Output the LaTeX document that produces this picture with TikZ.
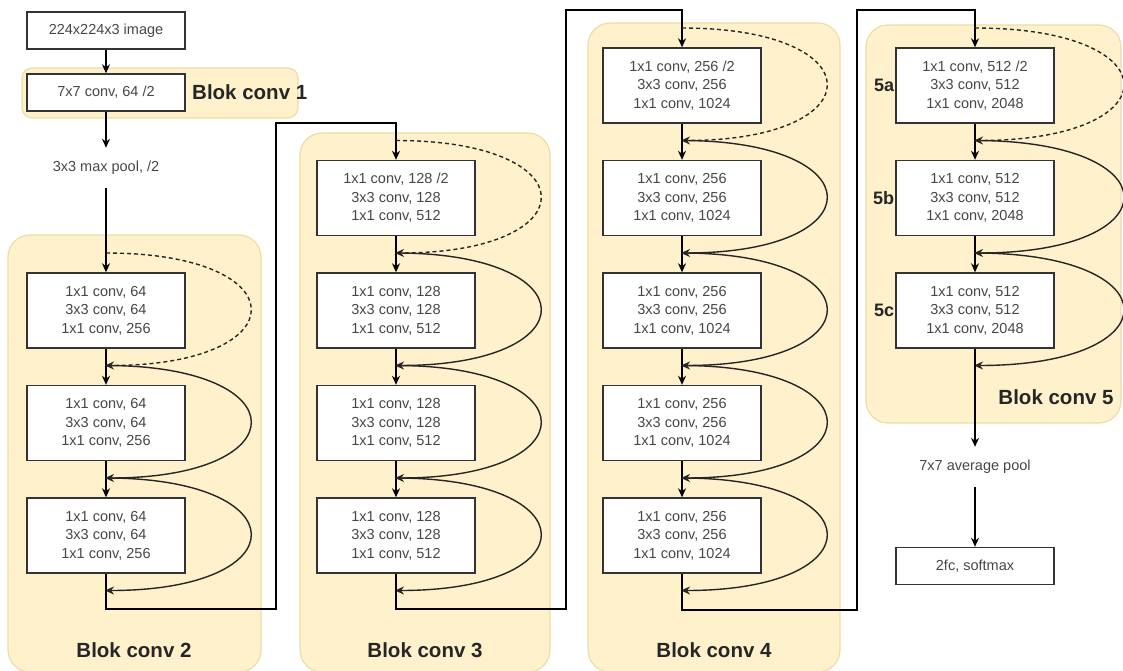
\documentclass[tikz,border=0pt]{standalone}
\usepackage{fontspec}
\setmainfont{Liberation Sans}
\usepackage{xcolor}
\usepackage{tikz}
\usetikzlibrary{arrows.meta}
\definecolor{panelfill}{HTML}{FFF1CC}
\definecolor{panelline}{HTML}{EEDDA6}
\definecolor{boxtext}{HTML}{474747}

\begin{document}
\begin{tikzpicture}[x=1pt, y=-1pt,
    panel/.style={draw=panelline, fill=panelfill, line width=1.2pt, rounded corners=22pt},
    layer/.style={draw=black!80, fill=white, line width=1.4pt, minimum width=158pt, minimum height=75pt,
      inner sep=0pt, align=center, text=boxtext, font=\fontsize{14.5}{18.5}\selectfont},
    flat/.style={layer, minimum height=37pt},
    note/.style={minimum height=40pt, inner sep=0pt, text=boxtext, font=\fontsize{14.5}{18.5}\selectfont},
    title/.style={inner sep=0pt, text=black!85, font=\fontsize{20.5}{24}\selectfont\bfseries},
    tag/.style={inner sep=1pt, text=black!85, font=\fontsize{18}{20}\selectfont\bfseries},
    link/.style={line width=1.4pt, -{Stealth[length=9pt, width=8pt]}},
    skip/.style={link, black!85, shorten >=-1pt},
    short/.style={dash pattern=on 4pt off 3pt}]
  \useasboundingbox (0,0) rectangle (1123,671);

  % panels
  \draw[panel, rounded corners=10pt] (22,68) rectangle (298,118);
  \draw[panel] (8,235) rectangle (261,672);
  \draw[panel] (300,133) rectangle (550,672);
  \draw[panel] (588,23) rectangle (840,672);
  \draw[panel] (866,25) rectangle (1121,423);

  % Blok conv 1
  \node[flat] (img) at (106,30.5) {224x224x3 image};
  \node[flat] (c1) at (106,92.5) {7x7 conv, 64 /2};
  \node[title, anchor=west] (t1) at (192,92) {Blok conv 1};
  \node[note] (pool) at (106,168) {3x3 max pool, /2};
  \draw[link] (img) -- (c1);
  \draw[link] (c1) -- (pool);

  % Blok conv 2
  \foreach \k in {2,3,4}
    \node[layer] (b2-\k) at (106,85.5+112.5*\k) {1x1 conv, 64\\3x3 conv, 64\\1x1 conv, 256};
  \foreach \k in {2,...,5}
    \coordinate (b2j\k) at (106,28+112.5*\k);
  \node[title] (t2) at (134,650) {Blok conv 2};
  \draw[link] (pool) -- (b2-2);
  \draw[link] (b2-2) -- (b2-3);
  \draw[link] (b2-3) -- (b2-4);
  \draw[skip, short] (b2j2) .. controls +(193,0) and +(193,0) .. (b2j3);
  \foreach \a/\b in {3/4,4/5}
    \draw[skip] (b2j\a) .. controls +(193,0) and +(193,0) .. (b2j\b);

  % Blok conv 3
  \node[layer] (b3-1) at (396,198) {1x1 conv, 128 /2\\3x3 conv, 128\\1x1 conv, 512};
  \foreach \k in {2,...,4}
    \node[layer] (b3-\k) at (396,85.5+112.5*\k) {1x1 conv, 128\\3x3 conv, 128\\1x1 conv, 512};
  \foreach \k in {1,...,5}
    \coordinate (b3j\k) at (396,28+112.5*\k);
  \node[title] (t3) at (425,650) {Blok conv 3};
  \draw[link] (b2-4.south) |- (276,609) |- (396,123) -- (b3-1.north);
  \foreach \a/\b in {1/2,2/3,3/4}
    \draw[link] (b3-\a) -- (b3-\b);
  \draw[skip, short] (b3j1) .. controls +(193,0) and +(193,0) .. (b3j2);
  \foreach \a/\b in {2/3,3/4,4/5}
    \draw[skip] (b3j\a) .. controls +(193,0) and +(193,0) .. (b3j\b);

  % Blok conv 4
  \node[layer] (b4-0) at (682,85.5) {1x1 conv, 256 /2\\3x3 conv, 256\\1x1 conv, 1024};
  \foreach \k in {1,...,4}
    \node[layer] (b4-\k) at (682,85.5+112.5*\k) {1x1 conv, 256\\3x3 conv, 256\\1x1 conv, 1024};
  \foreach \k in {0,...,5}
    \coordinate (b4j\k) at (682,28+112.5*\k);
  \node[title] (t4) at (714,650) {Blok conv 4};
  \draw[link] (b3-4.south) |- (566,609) |- (682,10) -- (b4-0.north);
  \foreach \a/\b in {0/1,1/2,2/3,3/4}
    \draw[link] (b4-\a) -- (b4-\b);
  \draw[skip, short] (b4j0) .. controls +(193,0) and +(193,0) .. (b4j1);
  \foreach \a/\b in {1/2,2/3,3/4,4/5}
    \draw[skip] (b4j\a) .. controls +(193,0) and +(193,0) .. (b4j\b);

  % Blok conv 5
  \node[layer] (b5-0) at (975,85.5) {1x1 conv, 512 /2\\3x3 conv, 512\\1x1 conv, 2048};
  \foreach \k in {1,2}
    \node[layer] (b5-\k) at (975,85.5+112.5*\k) {1x1 conv, 512\\3x3 conv, 512\\1x1 conv, 2048};
  \foreach \k/\tg in {0/5a,1/5b,2/5c}
    \node[tag, anchor=east] (tag\k) at (b5-\k.west) {\tg};
  \foreach \k in {0,...,3}
    \coordinate (b5j\k) at (975,28+112.5*\k);
  \node[title] (t5) at (1056,397) {Blok conv 5};
  \draw[link] (b4-4.south) |- (857,610) |- (975,10) -- (b5-0.north);
  \draw[link] (b5-0) -- (b5-1);
  \draw[link] (b5-1) -- (b5-2);
  \draw[skip, short] (b5j0) .. controls +(198,0) and +(198,0) .. (b5j1);
  \foreach \a/\b in {1/2,2/3}
    \draw[skip] (b5j\a) .. controls +(198,0) and +(198,0) .. (b5j\b);

  % head
  \node[note] (avg) at (975,467) {7x7 average pool};
  \node[flat] (fc) at (975,566) {2fc, softmax};
  \draw[link] (b5-2) -- (avg);
  \draw[link] (avg) -- (fc);
\end{tikzpicture}
\end{document}
